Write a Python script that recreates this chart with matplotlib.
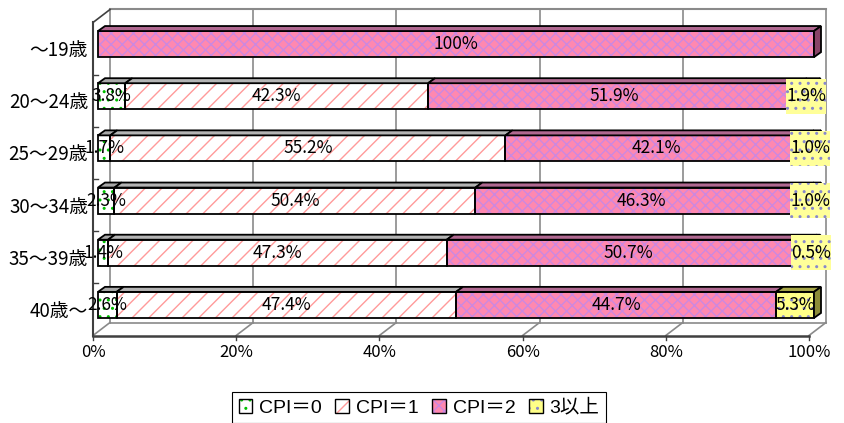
import matplotlib
matplotlib.use('Agg')
import matplotlib.pyplot as plt
from matplotlib.patches import Polygon, Rectangle
from matplotlib.legend_handler import HandlerTuple

plt.rcParams['font.family'] = ['Noto Sans CJK JP', 'DejaVu Sans']
plt.rcParams['hatch.linewidth'] = 1.0

# ---- data ----
categories = ['～19歳', '20～24歳', '25～29歳', '30～34歳', '35～39歳', '40歳～']
series_names = ['CPI＝0', 'CPI＝1', 'CPI＝2', '3以上']
cpi0 = [0, 3.8, 1.7, 2.3, 1.4, 2.6]
cpi1 = [0, 42.3, 55.2, 50.4, 47.3, 47.4]
cpi2 = [100, 51.9, 42.1, 46.3, 50.7, 44.7]
cpi3 = [0, 1.9, 1.0, 1.0, 0.5, 5.3]
xticks = [0, 20, 40, 60, 80, 100]
xticklabels = ['0%', '20%', '40%', '60%', '80%', '100%']

series = [cpi0, cpi1, cpi2, cpi3]
styles = [
    dict(face='white', hatch='..', hcolor='#00c000', top='#a8a8a8', side='#909090'),
    dict(face='white', hatch='//', hcolor='#ff9a9a', top='#b4b4b4', side='#909090'),
    dict(face='#ff88b0', hatch='xxx', hcolor='#cc88e0', top='#b06890', side='#884468'),
    dict(face='#ffff88', hatch='..', hcolor='#8888cc', top='#a8a848', side='#8c8c38'),
]

W, H = 844, 423
fig = plt.figure(figsize=(W / 100, H / 100), dpi=100)
AX_L, AX_R, AX_T, AX_B = 98, 814, 18, 331
ax = fig.add_axes([AX_L / W, 1 - AX_B / H, (AX_R - AX_L) / W, (AX_B - AX_T) / H])
n = len(categories)
ax.set_xlim(0, 100)
ax.set_ylim(n - 0.5, -0.5)
ax.axis('off')

pxx = 100 / (AX_R - AX_L)
pxy = n / (AX_B - AX_T)

def ypx(p):
    return -0.5 + (p - AX_T) * pxy

def xpx(p):
    return (p - AX_L) * pxx

# plane offsets (px)
fx, fy = -5 * pxx, 4.5 * pxy
bx, by = 12 * pxx, -8.5 * pxy
ytop, ybot = -0.5, n - 0.5

# back wall
grey = '#8a8a8a'
dark = '#404040'
for t in xticks:
    ax.plot([t + bx, t + bx], [ytop + by, ybot + by], color=grey, lw=1.2, zorder=1, clip_on=False)
ax.plot([bx, 100 + bx], [ytop + by, ytop + by], color=grey, lw=1.5, zorder=1, clip_on=False)
ax.plot([bx, 100 + bx], [ybot + by, ybot + by], color=grey, lw=1.2, zorder=1, clip_on=False)
# floor diagonals
for t in xticks:
    ax.plot([t + fx, t + bx], [ybot + fy, ybot + by], color=grey, lw=1.2, zorder=1, clip_on=False)
    ax.plot([t + fx, t + fx], [ybot + fy, ybot + fy + 4 * pxy], color=dark, lw=1.0, zorder=1, clip_on=False)
# left wall
ax.plot([fx, fx], [ytop + fy, ybot + fy], color=dark, lw=1.5, zorder=1, clip_on=False)
ax.plot([fx, bx], [ytop + fy, ytop + by], color=dark, lw=1.2, zorder=1, clip_on=False)
for k in range(1, n):
    ax.plot([fx, fx + 5 * pxx], [k - 0.5 + fy, k - 0.5 + fy], color=dark, lw=1.0, zorder=1, clip_on=False)
# floor front edge
ax.plot([fx, 100 + fx], [ybot + fy, ybot + fy], color=dark, lw=1.8, zorder=1, clip_on=False)

# bars
bh = 0.5
dtx, dty = 7 * pxx, 5 * pxy
lefts = [0.0] * n
ends = [None] * n
for s, vals in enumerate(series):
    st = styles[s]
    idx = [i for i in range(n) if vals[i] > 0]
    v = [vals[i] for i in idx]
    l = [lefts[i] for i in idx]
    ax.barh(idx, v, left=l, height=bh, color=st['face'], edgecolor='none', zorder=3, clip_on=False)
    ax.barh(idx, v, left=l, height=bh, fill=False, hatch=st['hatch'], edgecolor=st['hcolor'],
            linewidth=0, zorder=3.1, clip_on=False)
    ax.barh(idx, v, left=l, height=bh, fill=False, edgecolor='black', linewidth=1.3, zorder=3.2, clip_on=False)
    for i in idx:
        x0, x1 = lefts[i], lefts[i] + vals[i]
        yt = i - bh / 2
        ax.add_patch(Polygon([(x0, yt), (x1, yt), (x1 + dtx, yt - dty), (x0 + dtx, yt - dty)],
                             closed=True, facecolor=st['top'], edgecolor='black', lw=1.3,
                             zorder=3.3, clip_on=False))
        ends[i] = (x1, s)
    for i in idx:
        lefts[i] += vals[i]

for i in range(n):
    x1, s = ends[i]
    yt, yb = i - bh / 2, i + bh / 2
    ax.add_patch(Polygon([(x1, yt), (x1 + dtx, yt - dty), (x1 + dtx, yb - dty), (x1, yb)],
                         closed=True, facecolor=styles[s]['side'], edgecolor='black', lw=1.3,
                         zorder=3.3, clip_on=False))

# data labels
lbw, lbh = 40 * pxx, 35 * pxy
lefts = [0.0] * n
for s, vals in enumerate(series):
    for i in range(n):
        v = vals[i]
        if v > 0:
            cx = lefts[i] + v / 2
            if s == 3 and v < 3:
                ax.add_patch(Rectangle((cx - lbw / 2, i - lbh / 2), lbw, lbh, facecolor='#ffff99',
                                       edgecolor='none', zorder=4.5, clip_on=False))
                ax.add_patch(Rectangle((cx - lbw / 2, i - lbh / 2), lbw, lbh, fill=False, hatch='..',
                                       edgecolor='#8888cc', linewidth=0, zorder=4.6, clip_on=False))
            ax.text(cx, i, f'{v:.1f}%' if v < 100 else '100%',
                    ha='center', va='center', fontsize=12.5, color='black', zorder=5)
            lefts[i] += v

# category labels
for i, c in enumerate(categories):
    ax.text(xpx(88), i + fy + 2 * pxy, c, ha='right', va='center', fontsize=13.5, clip_on=False)

# x tick labels
for t, lab in zip(xticks, xticklabels):
    ax.text(t + fx, ypx(352), lab, ha='center', va='center', fontsize=12, clip_on=False)

# legend
handles = []
for st in styles:
    h = (Rectangle((0, 0), 1, 1, facecolor=st['face'], edgecolor='none'),
         Rectangle((0, 0), 1, 1, fill=False, hatch=st['hatch'], edgecolor=st['hcolor'], linewidth=0),
         Rectangle((0, 0), 1, 1, fill=False, edgecolor='black', linewidth=1.0))
    handles.append(h)
leg = fig.legend(handles, series_names, loc='upper center', bbox_to_anchor=(419 / W, 1 - 392 / H),
                 ncol=4, frameon=True, fancybox=False, edgecolor='black', framealpha=1,
                 handlelength=0.7, handleheight=0.7, handletextpad=0.35, columnspacing=0.7,
                 borderpad=0.35, borderaxespad=0,
                 prop=dict(family=['Liberation Sans', 'Noto Sans CJK JP'], size=14),
                 handler_map={tuple: HandlerTuple(ndivide=1, pad=0)})
leg.get_frame().set_linewidth(0.8)

fig.savefig('out.png', dpi=100)
